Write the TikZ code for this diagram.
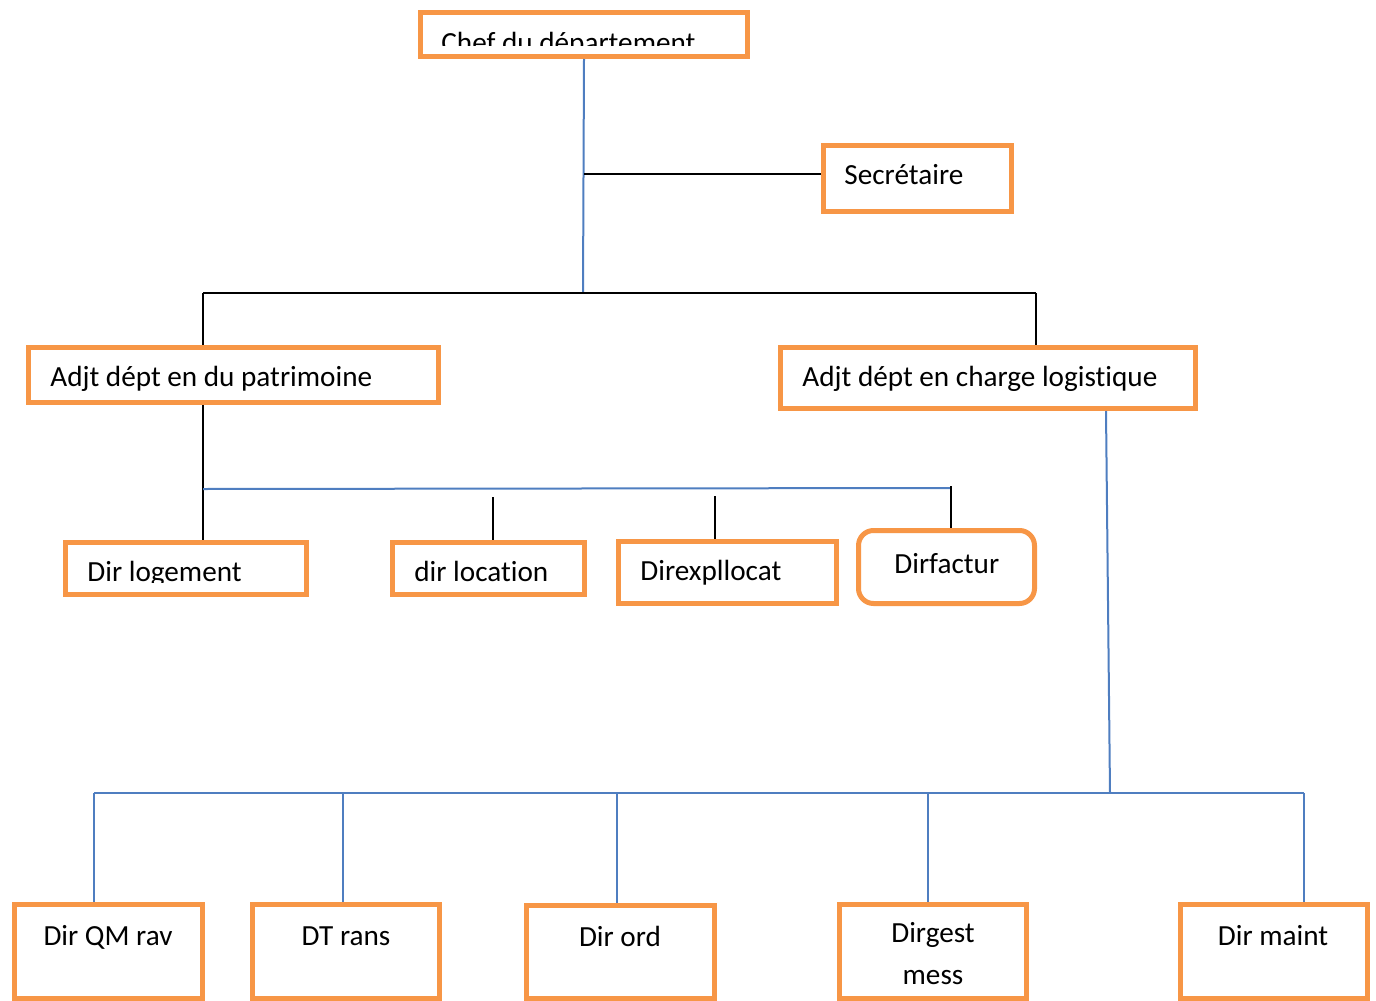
\documentclass[tikz,border=0pt]{standalone}
\usepackage{fontspec}
\setmainfont{Carlito}[Ligatures=NoCommon]
\begin{document}
\begin{tikzpicture}[x=0.5pt,y=-0.5pt,
  box/.style={draw=boxorange, line width=2.5pt, fill=white, inner sep=0pt},
  lbl/.style={anchor=base west, inner sep=0pt, font=\fontsize{14.6}{18}\selectfont},
  clbl/.style={anchor=base, inner sep=0pt, font=\fontsize{14.6}{18}\selectfont},
  blink/.style={draw=linkblue, line width=1pt},
  klink/.style={draw=black, line width=0.75pt}]
\definecolor{boxorange}{HTML}{F79646}
\definecolor{linkblue}{HTML}{4F7EC0}
\useasboundingbox (0,0) rectangle (1376,1001);

% an orange box given by its outer corners (px)
\newcommand{\orgbox}[6][]{%
  \node[box,#1, minimum width={(#5-#3-5)*0.5pt}, minimum height={(#6-#4-5)*0.5pt}]
    (#2) at ({(#3+#5)/2},{(#4+#6)/2}) {};}

% boxes
\orgbox{chef}{418}{10}{750}{59}
\orgbox{sec}{821}{143}{1014}{214}
\orgbox{pat}{26}{345}{441}{405}
\orgbox{log}{778}{345}{1198}{411}
\orgbox{dlog}{63}{540}{309}{597}
\orgbox{dloc}{390}{540}{587}{597}
\orgbox{dexp}{616}{539}{839}{606}
\orgbox[rounded corners=7.5pt]{dfac}{856}{528}{1037}{606}
\orgbox{dqm}{12}{902}{205}{1001}
\orgbox{dtr}{250}{902}{442}{1001}
\orgbox{dord}{524}{903}{717}{1001}
\orgbox{dges}{837}{902}{1029}{1001}
\orgbox{dmnt}{1178}{902}{1370}{1001}

% labels
\begin{scope}
  \clip (420,14) rectangle (748,45);
  \node[lbl] (t-chef) at (441,52) {Chef du département};
\end{scope}
\node[lbl] (t-sec) at (844,184) {Secrétaire};
\node[lbl] (t-pat) at (50,386) {Adjt dépt en du patrimoine};
\node[lbl] (t-log) at (802,386) {Adjt dépt en charge logistique};
\begin{scope}
  \clip (66,543) rectangle (306,582);
  \node[lbl] (t-dlog) at (87,581) {Dir logement};
\end{scope}
\node[lbl] (t-dloc) at (414,581) {dir location};
\node[lbl] (t-dexp) at (640,580) {Direxpllocat};
\node[lbl] (t-dfac) at (894,573) {Dirfactur};
\node[clbl] (t-dqm) at (108,945) {Dir QM rav};
\node[clbl] (t-dtr) at (346,945) {DT rans};
\node[clbl] (t-dord) at (620,946) {Dir ord};
\node[clbl] (t-dges1) at (933,942) {Dirgest};
\node[clbl] (t-dges2) at (933,984) {mess};
\node[clbl] (t-dmnt) at (1273,945) {Dir maint};

% junction points
\coordinate (jtop) at (583,293);
\coordinate (jsec) at (584,174);
\coordinate (jl) at (203,293);
\coordinate (jr) at (1036,293);
\coordinate (bl) at (203,489);
\coordinate (br) at (951,488);
\coordinate (sloc) at (493,497);
\coordinate (sexp) at (715,496);
\coordinate (sfac) at (951,486);
\coordinate (jlog) at (1110,793);
\coordinate (b3l) at (94,793);
\coordinate (b3r) at (1304,793);

% connectors
\draw[blink] (chef.south) -- (jtop);
\draw[klink] (jsec) -- (sec.west |- jsec);
\draw[klink] (jl) -- (jr);
\draw[klink] (jl) -- (pat.north -| jl);
\draw[klink] (jr) -- (log.north -| jr);
\draw[klink] (pat.south -| jl) -- (dlog.north -| jl);
\draw[blink] (bl) -- (br);
\draw[klink] (sloc) -- (dloc.north -| sloc);
\draw[klink] (sexp) -- (dexp.north -| sexp);
\draw[klink] (sfac) -- (dfac.north -| sfac);
\draw[blink] (log.south -| 1106,0) -- (jlog);
\draw[blink] (b3l) -- (b3r);
\draw[blink] (b3l) -- (dqm.north -| b3l);
\draw[blink] (343,793) -- (dtr.north -| 343,0);
\draw[blink] (617,793) -- (dord.north -| 617,0);
\draw[blink] (928,793) -- (dges.north -| 928,0);
\draw[blink] (b3r) -- (dmnt.north -| b3r);
\end{tikzpicture}
\end{document}
